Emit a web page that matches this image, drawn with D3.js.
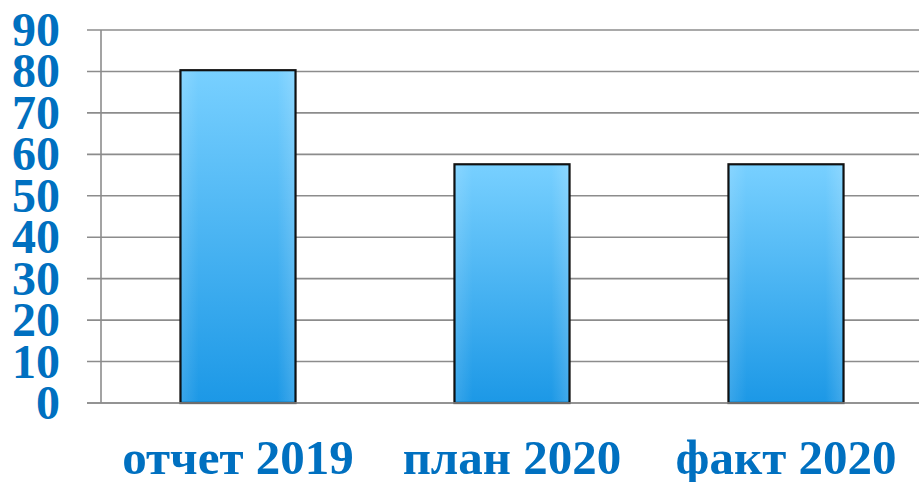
<!DOCTYPE html>
<html><head><meta charset="utf-8">
<script src="https://cdn.jsdelivr.net/npm/d3@7"></script>
<style>body{margin:0;background:#fff}svg{display:block}</style>
</head><body>
<script>
const categories = ["отчет 2019", "план 2020", "факт 2020"];
const values = [80.3, 57.6, 57.6];
const yTicks = [0, 10, 20, 30, 40, 50, 60, 70, 80, 90];

const W = 919, H = 482;
const m = {left: 101, right: -4, top: 30, bottom: 79};
const svg = d3.select("body").append("svg").attr("width", W).attr("height", H);

const defs = svg.append("defs");
const g1 = defs.append("linearGradient").attr("id", "gv").attr("x1", 0).attr("y1", 0).attr("x2", 0).attr("y2", 1);
g1.append("stop").attr("offset", "0%").attr("stop-color", "#78D0FF");
g1.append("stop").attr("offset", "100%").attr("stop-color", "#1C98E6");
const g2 = defs.append("linearGradient").attr("id", "gh").attr("x1", 0).attr("y1", 0).attr("x2", 1).attr("y2", 0);
g2.append("stop").attr("offset", "0%").attr("stop-color", "#fff").attr("stop-opacity", 0.12);
g2.append("stop").attr("offset", "15%").attr("stop-color", "#fff").attr("stop-opacity", 0);
g2.append("stop").attr("offset", "85%").attr("stop-color", "#fff").attr("stop-opacity", 0);
g2.append("stop").attr("offset", "100%").attr("stop-color", "#fff").attr("stop-opacity", 0.15);

const x = d3.scaleBand().domain(categories).range([m.left, W - m.right]).paddingInner(0.58).paddingOuter(0.29);
const y = d3.scaleLinear().domain([0, 90]).range([H - m.bottom, m.top]);

// gridlines with tick stubs
svg.append("g").selectAll("line").data(yTicks).join("line")
  .attr("x1", 87).attr("x2", W).attr("y1", d => y(d)).attr("y2", d => y(d))
  .attr("stroke", "#8c8c8c").attr("stroke-width", 1.6);
// y axis line
svg.append("line").attr("x1", m.left).attr("x2", m.left).attr("y1", y(90)).attr("y2", y(0))
  .attr("stroke", "#8c8c8c").attr("stroke-width", 1.6);

// y labels
svg.append("g").selectAll("text").data(yTicks).join("text")
  .attr("x", 60).attr("y", d => y(d) + 16)
  .attr("text-anchor", "end")
  .attr("font-family", "'Liberation Serif', 'Times New Roman', serif")
  .attr("font-weight", "bold").attr("font-size", 48).attr("fill", "#0070C0")
  .text(d => d);

// bars
const bars = svg.append("g");
bars.selectAll("rect.b").data(values).join("rect").attr("class", "b")
  .attr("x", (d, i) => x(categories[i])).attr("width", x.bandwidth())
  .attr("y", d => y(d)).attr("height", d => y(0) - y(d))
  .attr("fill", "url(#gv)").attr("stroke", "#111").attr("stroke-width", 2.2);
bars.selectAll("rect.h").data(values).join("rect").attr("class", "h")
  .attr("x", (d, i) => x(categories[i]) + 1.5).attr("width", x.bandwidth() - 3)
  .attr("y", d => y(d) + 1.5).attr("height", d => y(0) - y(d) - 3)
  .attr("fill", "url(#gh)");

// baseline
svg.append("line").attr("x1", 87).attr("x2", W).attr("y1", y(0)).attr("y2", y(0))
  .attr("stroke", "#8c8c8c").attr("stroke-width", 1.6);

// category labels
svg.append("g").selectAll("text").data(categories).join("text")
  .attr("x", d => x(d) + x.bandwidth() / 2).attr("y", 474)
  .attr("text-anchor", "middle")
  .attr("font-family", "'Liberation Serif', 'Times New Roman', serif")
  .attr("font-weight", "bold").attr("font-size", 49).attr("fill", "#0070C0")
  .text(d => d);
</script>
</body></html>
